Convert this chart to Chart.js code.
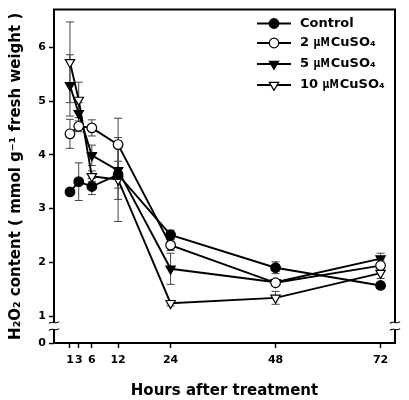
<!DOCTYPE html>
<html><head><meta charset="utf-8">
<script src="https://cdn.jsdelivr.net/npm/chart.js@4.4.1/dist/chart.umd.min.js"></script>
<style>html,body{margin:0;padding:0;background:#fff}</style>
</head><body>
<canvas id="c" width="409" height="400" style="width:409px;height:400px;display:block"></canvas>
<script>
// ---- data ----
const hours = [1, 3, 6, 12, 24, 48, 72];
const xTickValues = [1, 3, 6, 12, 24, 48, 72];
const yTickValues = [0.5, 1, 2, 3, 4, 5, 6];
const seriesNames = ['Control', '2 µM CuSO₄', '5 µM CuSO₄', '10 µM CuSO₄'];
const control    = [3.31, 3.50, 3.41, 3.63, 2.51, 1.90, 1.57];
const controlErr = [0.05, 0.35, 0.15, 0.25, 0.09, 0.11, 0.05];
const cu2        = [4.39, 4.53, 4.50, 4.19, 2.32, 1.62, 1.94];
const cu2Err     = [0.27, 0.10, 0.15, 0.49, 0.10, 0.05, 0.10];
const cu5        = [5.29, 4.77, 3.99, 3.71, 1.88, 1.63, 2.07];
const cu5Err     = [0.57, 0.20, 0.19, 0.54, 0.29, 0.05, 0.10];
const cu10       = [5.72, 5.02, 3.60, 3.54, 1.24, 1.34, 1.80];
const cu10Err    = [0.75, 0.33, 0.10, 0.78, 0.05, 0.12, 0.10];

const FONT = 'DejaVu Sans';
const styles = [
  {style: 'circle',   fill: '#000', rot: 0,   r: 4.8},
  {style: 'circle',   fill: '#fff', rot: 0,   r: 4.8},
  {style: 'triangle', fill: '#000', rot: 180, r: 5.4},
  {style: 'triangle', fill: '#fff', rot: 180, r: 5.4},
];
const values = [control, cu2, cu5, cu10];
const errors = [controlErr, cu2Err, cu5Err, cu10Err];

const datasets = values.map((vals, i) => ({
  label: seriesNames[i],
  data: hours.map((h, j) => ({x: h, y: vals[j]})),
  borderColor: '#000',
  borderWidth: 1.9,
  pointStyle: styles[i].style,
  pointRotation: styles[i].rot,
  pointRadius: styles[i].r,
  pointBackgroundColor: styles[i].fill,
  pointBorderColor: '#000',
  pointBorderWidth: 1.2,
  fill: false,
  tension: 0,
  errs: errors[i]
}));

function drawLabel(ctx, text, x, y) {
  // the unit "µM" is set tightly, as in the original figure
  const k = text.indexOf('µM');
  if (k < 0) { ctx.fillText(text, x, y); return; }
  const pre = text.slice(0, k), unit = 'µM', post = text.slice(k + 2).trimStart();
  ctx.fillText(pre, x, y);
  x += ctx.measureText(pre).width;
  ctx.save();
  ctx.translate(x, y);
  ctx.scale(0.72, 1);
  ctx.fillText(unit, 0, 0);
  const uw = ctx.measureText(unit).width * 0.72;
  ctx.restore();
  x += uw + 1;
  ctx.fillText(post, x, y);
}

const decor = {
  id: 'decor',
  beforeDatasetsDraw(chart) {
    const ctx = chart.ctx, xs = chart.scales.x, ys = chart.scales.y;
    ctx.save();
    ctx.strokeStyle = '#444';
    ctx.lineWidth = 1;
    chart.data.datasets.forEach(ds => {
      ds.data.forEach((p, j) => {
        const e = ds.errs[j];
        const x = xs.getPixelForValue(p.x);
        const y1 = ys.getPixelForValue(p.y + e), y2 = ys.getPixelForValue(p.y - e);
        ctx.beginPath();
        ctx.moveTo(x, y1); ctx.lineTo(x, y2);
        ctx.moveTo(x - 4, y1); ctx.lineTo(x + 4, y1);
        ctx.moveTo(x - 4, y2); ctx.lineTo(x + 4, y2);
        ctx.stroke();
      });
    });
    ctx.restore();
    const a = chart.chartArea;
    const gTop = 322.5, gBot = 329.5;
    ctx.save();
    ctx.strokeStyle = '#000';
    ctx.lineWidth = 2;
    ctx.beginPath();
    ctx.moveTo(a.left, gTop); ctx.lineTo(a.left, a.top); ctx.lineTo(a.right, a.top); ctx.lineTo(a.right, gTop);
    ctx.moveTo(a.left, gBot); ctx.lineTo(a.left, a.bottom); ctx.lineTo(a.right, a.bottom); ctx.lineTo(a.right, gBot);
    ctx.stroke();
    ctx.lineWidth = 1.2;
    [a.left, a.right].forEach(x => {
      [gTop, gBot].forEach(y => {
        ctx.beginPath();
        ctx.moveTo(x - 5, y + 1);
        ctx.bezierCurveTo(x - 2.5, y - 2.5, x + 2.5, y + 2.5, x + 5, y - 1);
        ctx.stroke();
      });
    });
    ctx.restore();
  },
  afterDraw(chart) {
    const ctx = chart.ctx;
    ctx.save();
    const rowsY = [23.5, 43, 64, 85];
    const x1 = 257, x2 = 291, mx = 274, tx = 300;
    chart.data.datasets.forEach((ds, i) => {
      const y = rowsY[i];
      ctx.strokeStyle = '#000';
      ctx.lineWidth = 1.9;
      ctx.beginPath(); ctx.moveTo(x1, y); ctx.lineTo(x2, y); ctx.stroke();
      ctx.fillStyle = styles[i].fill;
      ctx.lineWidth = 1.2;
      Chart.helpers.drawPoint(ctx, {pointStyle: styles[i].style, rotation: styles[i].rot, radius: styles[i].r, borderWidth: 1.2}, mx, y);
      ctx.fillStyle = '#000';
      ctx.font = 'bold 13px "' + FONT + '"';
      ctx.textBaseline = 'middle';
      ctx.textAlign = 'left';
      drawLabel(ctx, ds.label, tx, y);
    });
    ctx.restore();
  }
};

new Chart(document.getElementById('c'), {
  type: 'line',
  data: {datasets},
  options: {
    responsive: false,
    animation: false,
    devicePixelRatio: 1,
    layout: {padding: {top: 2, right: 14, left: 0, bottom: 0}},
    plugins: {legend: {display: false}, tooltip: {enabled: false}},
    scales: {
      x: {
        type: 'linear', min: -2.65, max: 75.3,
        afterBuildTicks: s => { s.ticks = xTickValues.map(v => ({value: v})); },
        afterFit: s => { s.height = 57; },
        border: {display: false},
        grid: {drawOnChartArea: false, drawTicks: true, tickLength: 5, tickColor: '#000', tickWidth: 1.5},
        ticks: {color: '#000', font: {family: FONT, weight: 'bold', size: 11}, padding: 6, maxRotation: 0, autoSkip: false},
        title: {display: true, text: 'Hours after treatment', color: '#000', font: {family: FONT, weight: 'bold', size: 15}, padding: {top: 10, bottom: 0}}
      },
      y: {
        type: 'linear', min: 0.5, max: 6.7,
        afterBuildTicks: s => { s.ticks = yTickValues.map(v => ({value: v})); },
        afterFit: s => { s.width = 54; },
        border: {display: false},
        grid: {drawOnChartArea: false, drawTicks: true, tickLength: 5, tickColor: '#000', tickWidth: 1.5},
        ticks: {color: '#000', font: {family: FONT, weight: 'bold', size: 11}, padding: 3, callback: v => v === 0.5 ? '0' : String(v)},
        title: {display: true, text: 'H₂O₂ content ( mmol g⁻¹ fresh weight )', color: '#000', font: {family: FONT, weight: 'bold', size: 15}, padding: {top: 7, bottom: 0}}
      }
    }
  },
  plugins: [decor]
});
</script>
</body></html>
